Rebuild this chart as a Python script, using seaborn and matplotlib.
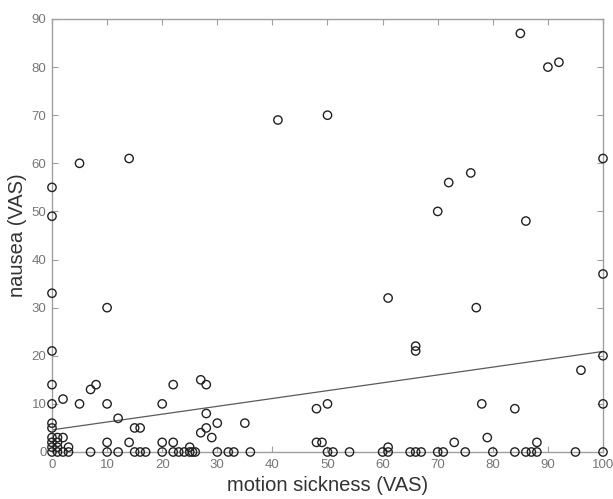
import numpy as np
import matplotlib
matplotlib.use("Agg")
import matplotlib.pyplot as plt
import seaborn as sns

# motion sickness (x) vs nausea (y), both VAS 0-100
motion_sickness = [
    85, 90, 92, 41, 50, 5, 14, 0, 0, 100,
    76, 72, 70, 86, 100, 0, 61, 10, 77, 66,
    66, 0, 100, 96, 0, 8, 7, 22, 27, 28,
    2, 0, 5, 10, 20, 78, 100, 84, 48, 50,
    12, 0, 0, 15, 16, 35, 30, 28, 27, 28,
    29, 10, 14, 20, 22, 25, 48, 49, 61, 73,
    79, 88, 0, 1, 2, 0, 1, 0, 1, 3,
    0, 1, 2, 3, 7, 10, 12, 15, 16, 17,
    20, 22, 23, 24, 25, 25.5, 26, 30, 32, 33,
    36, 50, 51, 54, 60, 61, 65, 66, 67, 70,
    71, 75, 80, 84, 86, 87, 88, 95, 100,
]
nausea = [
    87, 80, 81, 69, 70, 60, 61, 55, 49, 61,
    58, 56, 50, 48, 37, 33, 32, 30, 30, 22,
    21, 21, 20, 17, 14, 14, 13, 14, 15, 14,
    11, 10, 10, 10, 10, 10, 10, 9, 9, 10,
    7, 6, 5, 5, 5, 6, 6, 8, 4, 5,
    3, 2, 2, 2, 2, 1, 2, 2, 1, 2,
    3, 2, 3, 3, 3, 2, 2, 1, 1, 1,
    0, 0, 0, 0, 0, 0, 0, 0, 0, 0,
    0, 0, 0, 0, 0, 0, 0, 0, 0, 0,
    0, 0, 0, 0, 0, 0, 0, 0, 0, 0,
    0, 0, 0, 0, 0, 0, 0, 0, 0,
]

# least-squares line as drawn in the figure (ends read at x = 0 and x = 100)
fit_x = [0, 100]
fit_y = [4.6, 20.9]

x_ticks = list(range(0, 101, 10))
y_ticks = list(range(0, 91, 10))

sns.set_style("white")
plt.rcParams["font.family"] = ["Liberation Sans", "DejaVu Sans"]

fig = plt.figure(figsize=(6.13, 4.99), dpi=100)
ax = fig.add_axes([0.0848, 0.0942, 0.8989, 0.8678])

sns.scatterplot(
    x=motion_sickness,
    y=nausea,
    ax=ax,
    s=36,
    facecolors="none",
    edgecolor="#222222",
    linewidth=1.0,
    clip_on=False,
    zorder=3,
)
sns.lineplot(x=fit_x, y=fit_y, ax=ax, color="#5a5a5a", linewidth=0.9)

ax.set_xlim(0, 100)
ax.set_ylim(0, 90)
ax.set_xticks(x_ticks)
ax.set_yticks(y_ticks)

for spine in ax.spines.values():
    spine.set_visible(True)
    spine.set_color("#a0a0a0")
    spine.set_linewidth(1.0)

ax.tick_params(direction="in", length=4, width=0.8, color="#a0a0a0",
               labelcolor="#777777", labelsize=9.5, top=True, right=True,
               bottom=True, left=True)
ax.tick_params(axis="x", pad=5)
ax.tick_params(axis="y", pad=4)

ax.set_xlabel("motion sickness (VAS)", fontsize=14.5, color="#333333", labelpad=4)
ax.set_ylabel("nausea (VAS)", fontsize=14.5, color="#333333", labelpad=3)

fig.savefig("out.png", dpi=100)
